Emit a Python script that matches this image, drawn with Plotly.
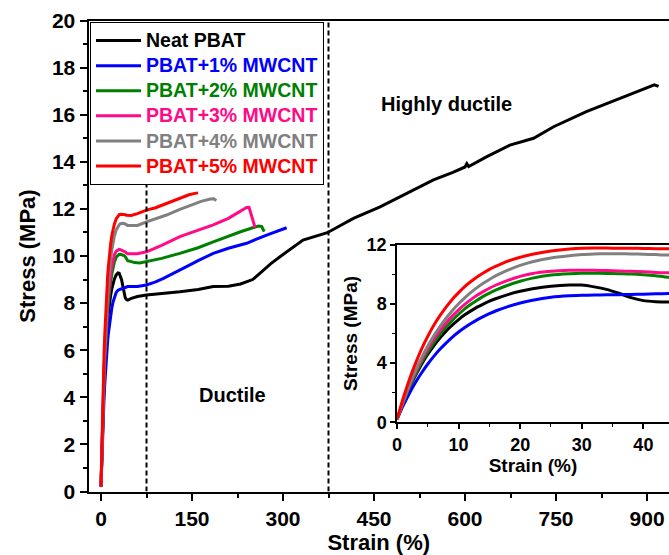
import plotly.graph_objects as go

# ---------------- data ----------------
grid = [0, 1, 2, 3, 4, 5, 6, 7, 8, 9, 10, 11, 12, 13, 14, 15, 16, 18, 20, 22, 25, 28, 30, 32, 34, 36,
        38, 40, 42, 44]

neat_strain = grid + [50, 60, 75, 100, 130, 160, 185, 210, 230, 250, 265, 280, 295, 310, 333, 373,
                      416, 460, 498, 548, 580, 600, 603, 606, 636, 674, 713, 746, 800, 855, 888, 912, 919]
neat_stress = [0.2, 1.31, 2.3, 3.16, 3.93, 4.6, 5.19, 5.71, 6.18, 6.58, 6.94, 7.26, 7.53, 7.78, 7.99,
               8.18, 8.35, 8.63, 8.85, 9.02, 9.2, 9.28, 9.27, 9.15, 8.98, 8.72, 8.42, 8.22, 8.15, 8.13,
               8.2, 8.28, 8.34, 8.4, 8.48, 8.58, 8.7, 8.72, 8.81, 9.0, 9.35, 9.68, 9.97, 10.25, 10.68, 10.99,
               11.6, 12.09, 12.59, 13.23, 13.55, 13.78, 13.92, 13.8, 14.22, 14.71, 15.0, 15.49, 16.13, 16.7,
               17.05, 17.27, 17.2]

cnt1_strain = grid + [50, 60, 75, 90, 103, 115, 130, 145, 160, 185, 210, 240, 273, 295, 306]
cnt1_stress = [0.2, 1.12, 1.95, 2.69, 3.35, 3.94, 4.47, 4.95, 5.37, 5.76, 6.1, 6.4, 6.68, 6.92, 7.14,
               7.34, 7.52, 7.82, 8.06, 8.25, 8.45, 8.55, 8.58, 8.6, 8.61, 8.62, 8.64, 8.66, 8.68, 8.7,
               8.7, 8.71, 8.77, 8.9, 9.05, 9.2, 9.41, 9.6, 9.8, 10.11, 10.33, 10.54, 10.89, 11.1, 11.2]

cnt2_strain = grid + [50, 55, 64, 75, 100, 130, 160, 185, 210, 230, 250, 260, 265, 269]
cnt2_stress = [0.2, 1.33, 2.34, 3.24, 4.04, 4.75, 5.39, 5.95, 6.45, 6.9, 7.3, 7.66, 7.97, 8.25, 8.51,
               8.73, 8.93, 9.26, 9.53, 9.74, 9.95, 10.04, 10.07, 10.07, 10.06, 10.04, 10.02, 9.97, 9.9, 9.8,
               9.76, 9.72, 9.7, 9.76, 9.9, 10.11, 10.35, 10.6, 10.85, 11.03, 11.2, 11.27, 11.25, 11.03]

cnt3_strain = grid + [50, 60, 75, 100, 130, 160, 185, 210, 224, 235, 240, 244, 247, 250, 254]
cnt3_stress = [0.2, 1.39, 2.45, 3.39, 4.23, 4.97, 5.63, 6.21, 6.73, 7.19, 7.6, 7.97, 8.29, 8.58, 8.83,
               9.06, 9.26, 9.59, 9.86, 10.05, 10.2, 10.27, 10.28, 10.27, 10.25, 10.22, 10.2, 10.17, 10.13, 10.1,
               10.1, 10.1, 10.18, 10.45, 10.82, 11.1, 11.32, 11.6, 11.81, 12.0, 12.06, 12.07, 11.85, 11.55, 11.2]

cnt4_strain = grid + [50, 60, 75, 90, 108, 130, 147, 165, 180, 186, 190]
cnt4_stress = [0.2, 1.42, 2.51, 3.49, 4.37, 5.15, 5.86, 6.49, 7.05, 7.56, 8.01, 8.41, 8.78, 9.1, 9.39,
               9.65, 9.89, 10.28, 10.6, 10.85, 11.1, 11.25, 11.33, 11.37, 11.39, 11.39, 11.38, 11.36, 11.33, 11.3,
               11.3, 11.3, 11.45, 11.58, 11.74, 11.98, 12.16, 12.32, 12.42, 12.43, 12.35]

cnt5_strain = grid + [50, 60, 75, 90, 108, 130, 145, 155, 160]
cnt5_stress = [0.2, 1.62, 2.88, 3.98, 4.96, 5.81, 6.57, 7.22, 7.8, 8.32, 8.76, 9.17, 9.51, 9.82, 10.09,
               10.33, 10.53, 10.89, 11.15, 11.35, 11.57, 11.71, 11.76, 11.77, 11.77, 11.76, 11.76, 11.75, 11.73, 11.72,
               11.72, 11.8, 11.95, 12.05, 12.24, 12.45, 12.6, 12.66, 12.68]

series_names = ["Neat PBAT", "PBAT+1% MWCNT", "PBAT+2% MWCNT", "PBAT+3% MWCNT",
                "PBAT+4% MWCNT", "PBAT+5% MWCNT"]
series_colors = ["#000000", "#0000FF", "#008000", "#FF0A87", "#808080", "#FF0000"]
series_strain = [neat_strain, cnt1_strain, cnt2_strain, cnt3_strain, cnt4_strain, cnt5_strain]
series_stress = [neat_stress, cnt1_stress, cnt2_stress, cnt3_stress, cnt4_stress, cnt5_stress]

region_bounds = [75, 375]
region_labels = [("Ductile", 217, 4.1), ("Highly ductile", 570, 16.45)]

main_xticks = [0, 150, 300, 450, 600, 750, 900]
main_yticks = [0, 2, 4, 6, 8, 10, 12, 14, 16, 18, 20]
inset_xticks = [0, 10, 20, 30, 40]
inset_yticks = [0, 4, 8, 12]

FONT = "Liberation Sans, Arial, sans-serif"

fig = go.Figure()

for name, col, xs, ys in zip(series_names, series_colors, series_strain, series_stress):
    fig.add_trace(go.Scatter(
        x=xs, y=ys, mode="lines", xaxis="x", yaxis="y",
        line=dict(color=col, width=3),
        name=f'<span style="color:{col};font-size:19.5px">{name}</span>',
        showlegend=True))

for name, col, xs, ys in zip(series_names, series_colors, series_strain, series_stress):
    fig.add_trace(go.Scatter(
        x=xs, y=ys, mode="lines", xaxis="x2", yaxis="y2",
        line=dict(color=col, width=3, shape="spline", smoothing=0.6),
        showlegend=False, hoverinfo="skip"))

for xb in region_bounds:
    fig.add_shape(type="line", xref="x", yref="y", x0=xb, x1=xb, y0=0, y1=20,
                  line=dict(color="black", width=2, dash="5px,3px"))

for txt, xv, yv in region_labels:
    fig.add_annotation(x=xv, y=yv, xref="x", yref="y", text=txt, showarrow=False,
                       font=dict(family=FONT, size=20, color="black", weight="bold"))

W, H = 669, 555
ax_common = dict(showgrid=False, zeroline=False, showline=True, linecolor="black",
                 ticks="outside", tickcolor="black", automargin=False)

fig.update_layout(
    width=W, height=H,
    margin=dict(l=0, r=0, t=0, b=0, autoexpand=False),
    paper_bgcolor="white", plot_bgcolor="rgba(0,0,0,0)",
    font=dict(family=FONT, color="black"),
    xaxis=dict(**ax_common, domain=[88.5 / W, 1.0], range=[-20.6, 936.2],
               linewidth=2, mirror=True, ticklen=7, tickwidth=2,
               tickvals=main_xticks, tickfont=dict(size=21, weight="bold"),
               minor=dict(ticks="outside", dtick=75, tick0=0, ticklen=4, tickwidth=1.5, tickcolor="black"),
               title=dict(text="Strain (%)", font=dict(size=22, weight="bold"), standoff=2),
               anchor="y"),
    yaxis=dict(**ax_common, domain=[(H - 491.5) / H, (H - 20.5) / H], range=[0, 20],
               linewidth=2, ticklen=7, tickwidth=2,
               tickvals=main_yticks, tickfont=dict(size=21, weight="bold"),
               minor=dict(ticks="outside", dtick=1, tick0=0, ticklen=4, tickwidth=1.5, tickcolor="black"),
               title=dict(text="Stress (MPa)", font=dict(size=22, weight="bold"), standoff=10),
               anchor="x"),
    xaxis2=dict(**ax_common, domain=[397 / W, 1.0], range=[0, 44.16],
                linewidth=1.5, mirror=True, ticklen=5, tickwidth=1.5,
                tickvals=inset_xticks, tickfont=dict(size=18, weight="bold"),
                minor=dict(ticks="outside", dtick=5, tick0=0, ticklen=3, tickwidth=1, tickcolor="black"),
                title=dict(text="Strain (%)", font=dict(size=19, weight="bold"), standoff=0),
                anchor="y2"),
    yaxis2=dict(**ax_common, domain=[(H - 422.3) / H, (H - 244.7) / H], range=[0, 12],
                linewidth=1.5, ticklen=5, tickwidth=1.5,
                tickvals=inset_yticks, tickfont=dict(size=18, weight="bold"),
                minor=dict(ticks="outside", dtick=2, tick0=0, ticklen=3, tickwidth=1, tickcolor="black"),
                title=dict(text="Stress (MPa)", font=dict(size=19, weight="bold"), standoff=4),
                anchor="x2"),
    legend=dict(x=90 / W, y=(H - 22) / H, xanchor="left", yanchor="top",
                bgcolor="white", bordercolor="black", borderwidth=1,
                font=dict(family=FONT, size=17, weight="bold", color="black"),
                itemwidth=45, tracegroupgap=0),
)

fig.write_html("out.html", config={"displayModeBar": False},
               post_script="document.body.style.margin='0';document.body.style.overflow='hidden';")
